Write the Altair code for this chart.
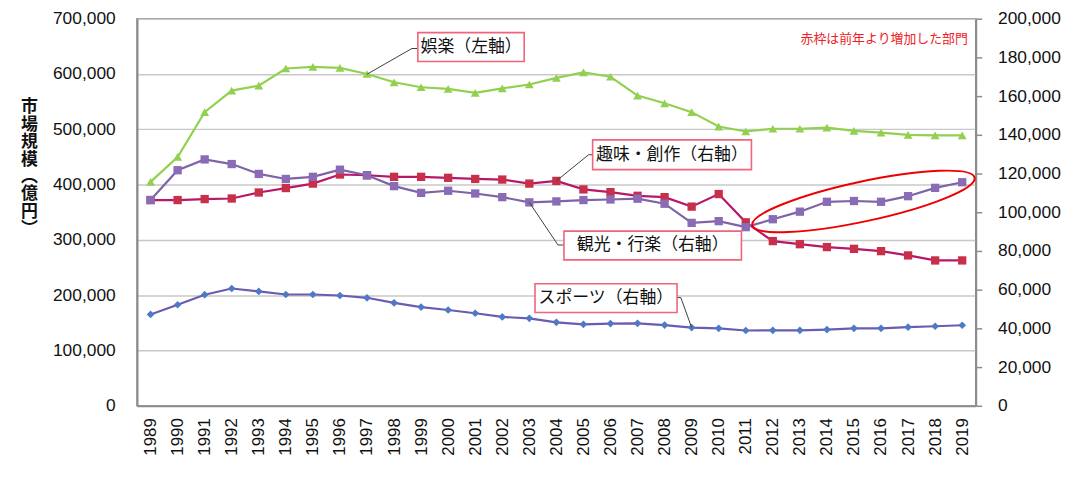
import altair as alt
import pandas as pd

# ---------------- data ----------------
years = list(range(1989, 2020))
goraku = [405000, 450000, 531000, 570000, 579000, 610000, 613000, 611000,
          600000, 585000, 576000, 573000, 566000, 574000, 581000, 593000, 603000,
          595000, 561000, 547000, 531000,
          505000, 496000, 501000, 501000, 503000, 497000, 494000, 490000, 489000, 489000]
shumi = [106300, 106300, 106800, 107100, 110200, 112500, 114800, 119500,
         119100, 118300, 118300, 117800, 117200, 116900, 114800, 116200, 111800,
         110400, 108500, 107800, 102900,
         109400, 94800, 85100, 83500, 82000, 81100, 79900, 77700, 75100, 75100]
kanko = [106300, 121700, 127300, 124900, 119800, 117200, 118300, 122000,
         119100, 113500, 110000, 111100, 109700, 107800, 105100, 105600, 106300,
         106600, 107000, 104400, 94500,
         95400, 92300, 96400, 100300, 105400, 105800, 105400, 108300, 112600, 115500]
sports = [47200, 52200, 57400, 60600, 59100, 57500, 57500, 57000,
          55800, 53200, 51000, 49500, 47800, 45900, 45200, 43100, 42100,
          42500, 42600, 41700, 40400,
          40000, 38900, 39000, 39000, 39400, 40000, 40000, 40600, 41100, 41600]

left_ticks = [0, 100000, 200000, 300000, 400000, 500000, 600000, 700000]
right_ticks = [0, 20000, 40000, 60000, 80000, 100000, 120000, 140000, 160000, 180000, 200000]
y_title = ["市", "場", "規", "模", "︵", "億", "円", "︶"]

# callout labels (positions in year / right-axis units)
label_text = ["娯楽（左軸）", "趣味・創作（右軸）", "観光・行楽（右軸）", "スポーツ（右軸）"]
label_x = [2000.85, 2008.27, 2007.56, 2005.83]
label_y = [185400, 129700, 82800, 55600]
box_x1 = [1998.88, 2005.34, 2004.28, 2003.21]
box_x2 = [2002.81, 2011.21, 2010.84, 2008.46]
box_y1 = [177900, 122000, 75400, 48200]
box_y2 = [192800, 137400, 90250, 63070]
leader_grp = [0, 0, 0, 1, 1, 1, 2, 2, 2, 3, 3, 3]
leader_ord = [0, 1, 2, 0, 1, 2, 0, 1, 2, 0, 1, 2]
leader_x = [1997.0, 1998.66, 1998.88, 2004.0, 2005.19, 2005.34,
            2003.0, 2004.06, 2004.28, 2009.0, 2008.60, 2008.46]
leader_y = [171300, 184600, 184600, 116200, 129700, 129700,
            105100, 83070, 83070, 40400, 55900, 55900]
note_text = "赤枠は前年より増加した部門"
note_x = [2019.21]
note_y = [189700]
ellipse_x = [2015.35]
ellipse_y = [105600]

FONT = "Noto Sans CJK JP"
NUM_FONT = "Liberation Sans"
AX = "#8c8c8c"
TXT = "#111111"

# ---------------- encodings ----------------
x_enc = alt.X("year:Q",
              scale=alt.Scale(domain=[1988.5, 2019.5], nice=False, zero=False),
              axis=alt.Axis(values=years, format="d", labelAngle=270, labelAlign="right",
                            labelBaseline="middle", ticks=False, grid=False,
                            domainColor=AX, domainWidth=2, labelPadding=12,
                            labelFont=NUM_FONT, labelFontSize=17, labelColor=TXT,
                            title=None))

yL = alt.Y("value:Q", scale=alt.Scale(domain=[0, 700000], nice=False),
           axis=alt.Axis(values=left_ticks, format=",d", grid=True, gridColor="#c8c8c8",
                         gridWidth=1.5, ticks=False, domainColor=AX, domainWidth=2,
                         labelPadding=22, labelFont=NUM_FONT, labelFontSize=17.5,
                         labelColor=TXT,
                         title=y_title, titleAngle=0, titleX=-109, titleY=81,
                         titleAlign="center", titleBaseline="top", titleFontSize=17,
                         titleFontWeight="bold", titleLineHeight=17.5, titleFont=FONT,
                         titleColor=TXT))

yR = alt.Y("value:Q", scale=alt.Scale(domain=[0, 200000], nice=False),
           axis=alt.Axis(orient="right", values=right_ticks, format=",d", grid=False,
                         ticks=True, tickSize=6, tickColor=AX, tickWidth=1.5,
                         domainColor=AX, domainWidth=2, labelPadding=16,
                         labelFont=NUM_FONT, labelFontSize=17.5, labelColor=TXT,
                         title=None))

# ---------------- left axis layer ----------------
df_g = pd.DataFrame({"year": years, "value": goraku})
g_base = alt.Chart(df_g).encode(x=x_enc, y=yL)
left = alt.layer(
    g_base.mark_line(color="#92d050", strokeWidth=2.2),
    g_base.mark_point(shape="triangle-up", filled=True, size=80, color="#92d050", opacity=1),
)

# ---------------- right axis layers ----------------
series = [
    (sports, "#6a5cb0", "#4f79c4", "diamond", 60),
    (shumi, "#b8176a", "#c8304a", "square", 70),
    (kanko, "#7f63a8", "#8a6bb5", "square", 70),
]
right_layers = []
for vals, lc, mc, shp, sz in series:
    d = pd.DataFrame({"year": years, "value": vals})
    b = alt.Chart(d).encode(x=x_enc, y=yR)
    right_layers.append(b.mark_line(color=lc, strokeWidth=2.2))
    right_layers.append(b.mark_point(shape=shp, filled=True, size=sz, color=mc, opacity=1))

df_lead = pd.DataFrame({"year": leader_x, "value": leader_y, "grp": leader_grp, "ord": leader_ord})
right_layers.append(
    alt.Chart(df_lead).mark_line(color="#404040", strokeWidth=1).encode(
        x=x_enc, y=yR, detail="grp:N", order="ord:Q")
)

df_box = pd.DataFrame({"year": box_x1, "year2": box_x2, "value": box_y1, "value2": box_y2})
right_layers.append(
    alt.Chart(df_box).mark_rect(fill="white", stroke="#f0647c", strokeWidth=1.6).encode(
        x=x_enc, x2="year2:Q", y=yR, y2="value2:Q")
)

df_lab = pd.DataFrame({"year": label_x, "value": label_y, "t": label_text})
right_layers.append(
    alt.Chart(df_lab).mark_text(font=FONT, fontSize=17, color=TXT, align="center",
                                baseline="middle").encode(x=x_enc, y=yR, text="t:N")
)

df_note = pd.DataFrame({"year": note_x, "value": note_y, "t": [note_text]})
right_layers.append(
    alt.Chart(df_note).mark_text(font=FONT, fontSize=13, color="#ee1c25", align="right",
                                 baseline="middle").encode(x=x_enc, y=yR, text="t:N")
)

df_ell = pd.DataFrame({"year": ellipse_x, "value": ellipse_y})
right_layers.append(
    alt.Chart(df_ell).mark_point(
        shape="M -1 0 A 1 0.175 0 1 1 1 0 A 1 0.175 0 1 1 -1 0 Z",
        size=52441, angle=347.9, filled=False, stroke="#ee0000", strokeWidth=2,
        opacity=1).encode(x=x_enc, y=yR)
)

right = alt.layer(*right_layers)

chart = (
    alt.layer(left, right)
    .resolve_scale(y="independent")
    .properties(width=845, height=390,
                autosize=alt.AutoSizeParams(type="none"),
                padding={"left": 130, "top": 9, "right": 97, "bottom": 75})
    .configure_view(stroke=AX, strokeWidth=1.5)
)

chart.save("out.html", embed_options={"renderer": "svg", "actions": False})
